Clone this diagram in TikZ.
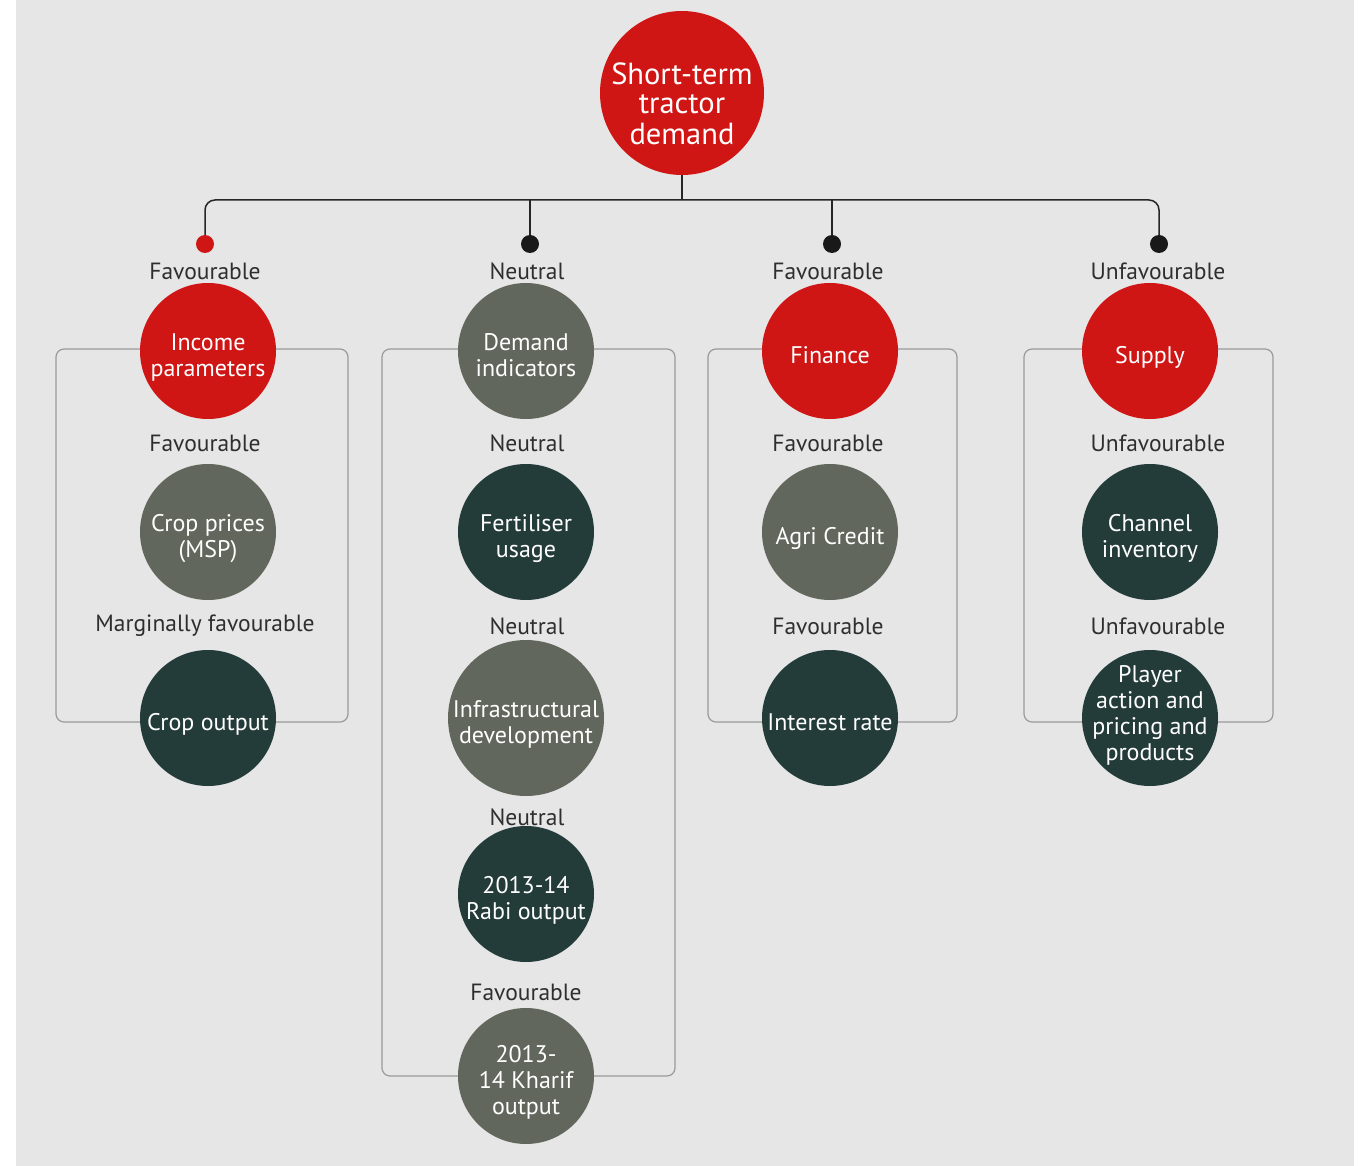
\documentclass[tikz,border=0pt]{standalone}
\usepackage{fontspec}
\setmainfont{PT Sans}
\definecolor{bg}{HTML}{E6E6E6}
\definecolor{cred}{HTML}{D01515}
\definecolor{cgray}{HTML}{62675D}
\definecolor{cdark}{HTML}{233C39}
\definecolor{ctext}{HTML}{2E2E2E}
\definecolor{cbox}{HTML}{9A9A9A}
\newcommand{\ctxt}[2][-13.5pt]{\raisebox{#1}[0pt][0pt]{\makebox[0pt]{\begin{tabular}{@{}c@{}}#2\end{tabular}}}}
\tikzset{
  circ/.style={circle, inner sep=0pt, minimum size=136pt, text=white,
    font=\fontsize{24}{26}\selectfont},
  redc/.style={circ, fill=cred},
  grayc/.style={circ, fill=cgray},
  darkc/.style={circ, fill=cdark},
  lbl/.style={text=ctext, font=\fontsize{23.5}{26}\selectfont, inner sep=0pt},
  conn/.style={draw=black!85, line width=1.5pt},
  boxline/.style={draw=cbox, line width=1.2pt, rounded corners=8pt},
  dot/.style={circle, inner sep=0pt, minimum size=18pt, fill=black!90},
}
\begin{document}
\begin{tikzpicture}[x=1pt,y=-1pt]
\useasboundingbox (0,0) rectangle (1366,1166);
\fill[white] (0,0) rectangle (1366,1166);
\fill[bg] (16,0) rectangle (1354,1166);

% boxes
\draw[boxline] (56,349) rectangle (348,722);
\draw[boxline] (382,349) rectangle (675,1076);
\draw[boxline] (708,349) rectangle (957,722);
\draw[boxline] (1024,349) rectangle (1273,722);

% top node
\node[redc, minimum size=164pt, font=\fontsize{30.5}{29.5}\selectfont] (top) at (682,93) {\ctxt[-21pt]{Short-term\\tractor\\demand}};
\coordinate (bar) at (682,200);

% dots
\node[dot, fill=cred] (d1) at (205,244) {};
\node[dot] (d2) at (530,244) {};
\node[dot] (d3) at (832,244) {};
\node[dot] (d4) at (1159,244) {};

\draw[conn] (top.south) -- (bar);
\draw[conn, rounded corners=10pt] (d1.north) |- (d4.north |- bar) -- (d4.north);
\draw[conn] (d2.north) -- (d2.north |- bar);
\draw[conn] (d3.north) -- (d3.north |- bar);

% labels
\node[lbl] (l11) at (205,271) {Favourable};
\node[lbl] (l12) at (205,443) {Favourable};
\node[lbl] (l13) at (205,626) {Marginally favourable};
\node[lbl] (l21) at (527,271) {Neutral};
\node[lbl] (l22) at (527,443) {Neutral};
\node[lbl] (l23) at (527,626) {Neutral};
\node[lbl] (l24) at (527,817) {Neutral};
\node[lbl] (l25) at (526,992) {Favourable};
\node[lbl] (l31) at (828,271) {Favourable};
\node[lbl] (l32) at (828,443) {Favourable};
\node[lbl] (l33) at (828,626) {Favourable};
\node[lbl] (l41) at (1158,271) {Unfavourable};
\node[lbl] (l42) at (1158,443) {Unfavourable};
\node[lbl] (l43) at (1158,626) {Unfavourable};

% column 1
\node[redc] (c11) at (208,351) {\ctxt{Income\\parameters}};
\node[grayc] (c12) at (208,532) {\ctxt{Crop prices\\(MSP)}};
\node[darkc] (c13) at (208,718) {\ctxt{Crop output}};
% column 2
\node[grayc] (c21) at (526,351) {\ctxt{Demand\\indicators}};
\node[darkc] (c22) at (526,532) {\ctxt{Fertiliser\\usage}};
\node[grayc, minimum size=156pt] (c23) at (526,718) {\ctxt{Infrastructural\\development}};
\node[darkc] (c24) at (526,894) {\ctxt{2013-14\\Rabi output}};
\node[grayc] (c25) at (526,1076) {\ctxt{2013-\\14 Kharif\\output}};
% column 3
\node[redc] (c31) at (830,351) {\ctxt{Finance}};
\node[grayc] (c32) at (830,532) {\ctxt{Agri Credit}};
\node[darkc] (c33) at (830,718) {\ctxt{Interest rate}};
% column 4
\node[redc] (c41) at (1150,351) {\ctxt{Supply}};
\node[darkc] (c42) at (1150,532) {\ctxt{Channel\\inventory}};
\node[darkc] (c43) at (1150,718) {\ctxt[-5pt]{Player\\action and\\pricing and\\products}};
\end{tikzpicture}
\end{document}
